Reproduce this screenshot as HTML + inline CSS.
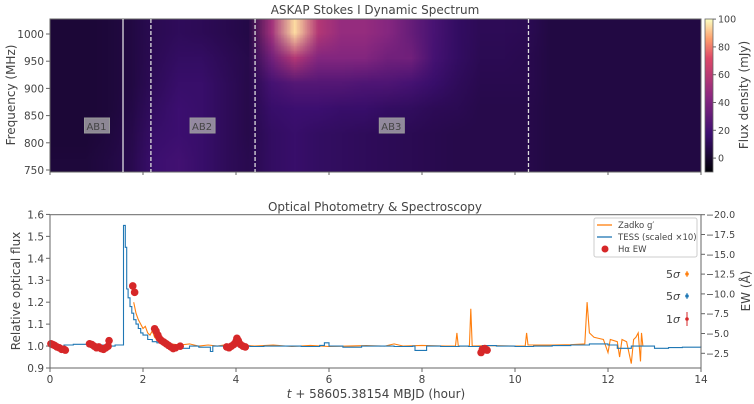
<!DOCTYPE html>
<html><head><meta charset="utf-8"><style>
body{margin:0;width:754px;height:404px;background:#fff;position:relative;overflow:hidden;font-family:"Liberation Sans","DejaVu Sans",sans-serif}
#hm{position:absolute;left:50px;top:19px;width:651px;height:153px}
#cb{position:absolute;left:705px;top:19px;width:8px;height:153px}
svg{position:absolute;left:0;top:0}
text{font-family:"DejaVu Sans","Liberation Sans",sans-serif;fill:#444}
</style></head><body>
<canvas id="hm" width="28" height="6"></canvas>
<canvas id="cb" width="1" height="110"></canvas>
<svg id="s" width="754" height="404"></svg>
<script>
// ---- heatmap data (mJy), columns 0.5 h each, rows top(high freq)->bottom
const hmCols = [
[3,3,3,3,3,4],[3,3,3,3,3,4],[4,4,4,4,5,6],[6,6,6,7,8,9],
[10,11,12,14,16,18],[12,14,16,18,18,20],[11,14,16,16,16,16],[9,11,12,12,12,12],
[7,8,8,8,8,9],[52,36,21,16,14,14],[95,58,26,18,16,16],[58,42,26,18,14,14],
[48,42,26,16,13,13],[48,42,24,16,12,12],[43,36,24,14,11,11],[32,36,21,13,10,10],
[22,21,16,11,9,9],[14,14,12,10,8,8],[11,10,9,8,8,8],[11,10,9,8,8,8],
[10,9,9,8,8,8],[6,6,6,6,6,6],[6,6,6,6,6,6],[6,6,6,6,6,6],
[6,6,6,6,6,6],[6,6,6,6,6,6],[6,6,6,6,6,6],[6,6,6,6,6,6]];
const freqTicks=[750,800,850,900,950,1000];
const cbTicks=[0,20,40,60,80,100];
const dashedT=[2.17,4.41,10.29];
const burstLabels=["AB1","AB2","AB3"];
const burstLabelT=[1.0,3.27,7.34];
// ---- light curve data
const tessT=[0,0.3,0.5,0.8,1.0,1.2,1.4,1.58,1.62,1.65,1.68,1.72,1.76,1.8,1.85,1.9,1.95,2.0,2.1,2.2,2.3,2.4,2.5,2.6,2.8,3.0,3.2,3.45,3.5,3.7,4.0,4.3,4.6,5.0,5.4,5.8,5.9,6.0,6.3,6.7,7.0,7.4,7.8,7.85,8.1,8.4,8.8,9.0,9.3,9.6,10.0,10.4,10.8,11.2,11.6,12.0,12.2,12.5,12.8,13.0,13.3,13.6,14];
const tessF=[1.0,1.005,1.008,1.0,1.005,1.0,1.005,1.55,1.45,1.26,1.22,1.18,1.15,1.12,1.10,1.08,1.06,1.05,1.03,1.02,1.015,1.01,1.005,1.0,0.99,1.0,0.995,0.975,1.0,1.0,1.0,0.998,1.0,1.0,0.998,1.003,1.015,1.0,0.995,1.0,1.0,0.998,1.0,0.98,1.0,0.998,1.0,0.998,1.002,1.0,0.998,1.0,1.002,1.005,1.01,1.005,0.99,1.0,1.0,0.99,0.993,0.995,1.0];
const zadkoT=[1.8,1.85,1.9,1.95,2.0,2.05,2.1,2.15,2.2,2.25,2.3,2.4,2.5,2.6,2.8,3.0,3.2,3.4,3.6,3.9,4.0,4.1,4.4,4.8,5.2,5.6,6.0,6.4,6.8,7.2,7.4,7.6,8.0,8.5,8.72,8.75,8.78,9.02,9.05,9.08,9.5,10.0,10.22,10.25,10.28,10.8,11.2,11.5,11.55,11.6,11.7,11.8,11.9,12.0,12.05,12.2,12.25,12.3,12.4,12.5,12.55,12.6,12.65,12.7,12.72,12.75];
const zadkoF=[1.2,1.15,1.12,1.1,1.08,1.09,1.06,1.05,1.07,1.04,1.03,1.02,1.015,1.01,1.005,1.01,1.0,1.005,1.0,1.01,1.02,1.005,1.0,1.005,0.998,1.003,0.998,1.0,1.002,1.0,1.01,1.0,1.003,1.0,1.0,1.06,1.0,1.0,1.17,1.0,1.002,1.0,1.0,1.06,1.005,1.005,1.006,1.01,1.2,1.06,1.04,1.035,1.03,0.97,1.03,1.02,0.95,1.03,1.02,0.92,1.03,1.04,1.06,0.93,1.06,1.0];
const haT=[0.02,0.06,0.1,0.15,0.2,0.25,0.3,0.33,0.85,0.9,0.95,1.0,1.05,1.1,1.15,1.2,1.25,1.27,1.78,1.82,2.25,2.28,2.32,2.35,2.4,2.45,2.5,2.55,2.6,2.65,2.7,2.8,3.8,3.85,3.9,3.95,4.0,4.02,4.05,4.1,4.15,4.2,9.27,9.3,9.35,9.4];
const haEW=[-3.7,-3.6,-3.5,-3.3,-3.2,-3.0,-3.0,-2.9,-3.7,-3.6,-3.4,-3.2,-3.3,-3.1,-3.0,-3.2,-3.4,-4.1,-11.0,-10.2,-5.6,-5.3,-4.8,-4.4,-4.1,-3.9,-3.7,-3.5,-3.3,-3.1,-3.2,-3.4,-3.3,-3.2,-3.4,-3.6,-4.0,-4.4,-4.1,-3.6,-3.4,-3.3,-2.6,-3.0,-3.1,-2.9];
const xTicks=[0,2,4,6,8,10,12,14];
const yTicks=[0.9,1.0,1.1,1.2,1.3,1.4,1.5,1.6];
const ewTicks=[-2.5,-5.0,-7.5,-10.0,-12.5,-15.0,-17.5,-20.0];

// ---- scales
const X=t=>50+t*(651/14);
const FY=f=>170-(f-750)*0.544;
const Y=v=>368-(v-0.9)*219.4;
const EY=e=>214.7+(e+20)*7.92;
const CBY=v=>172-(v+10)*1.39;
const magma=[[0,0,4],[59,15,112],[140,41,129],[222,73,104],[254,159,109],[252,253,191]];
const mpos=[0,0.25,0.5,0.75,0.875,1];
function cmap(v){let t=Math.max(0,Math.min(1,(v+10)/110));for(let i=1;i<mpos.length;i++){if(t<=mpos[i]){const f=(t-mpos[i-1])/(mpos[i]-mpos[i-1]);const a=magma[i-1],b=magma[i];return `rgb(${a.map((c,k)=>Math.round(c+(b[k]-c)*f)).join(',')})`;}}return 'rgb(252,253,191)';}
const hc=document.getElementById('hm').getContext('2d');
hmCols.forEach((col,i)=>col.forEach((v,j)=>{hc.fillStyle=cmap(v);hc.fillRect(i,j,1,1);}));
const cc=document.getElementById('cb').getContext('2d');
for(let k=0;k<110;k++){cc.fillStyle=cmap(100-k);cc.fillRect(0,k,1,1);}

const S=document.getElementById('s');const NS='http://www.w3.org/2000/svg';
function el(tag,attrs,txt){const e=document.createElementNS(NS,tag);for(const k in attrs)e.setAttribute(k,attrs[k]);if(txt!==undefined)e.textContent=txt;S.appendChild(e);return e;}
let e;
e=el('rect',{x:50,y:19,width:651,height:153,fill:'none',stroke:'#666','stroke-width':1});


e=el('rect',{x:705,y:19,width:8,height:153,fill:'none',stroke:'#666','stroke-width':0.8});


e=el('text',{x:375,y:14,'text-anchor':'middle','font-size':12},'ASKAP Stokes I Dynamic Spectrum');


e=el('line',{x1:X(1.57),x2:X(1.57),y1:19,y2:172,stroke:'#eee','stroke-width':1.2});


dashedT.forEach(t=>{const d=el('line',{x1:X(t),x2:X(t),y1:19,y2:172,stroke:'#ddd','stroke-width':1.3,'stroke-dasharray':'4,2'});

});
burstLabels.forEach((l,i)=>{const cx=X(burstLabelT[i]);
const r=el('rect',{x:cx-12,y:118,width:25,height:15,fill:'#b3b3b3','fill-opacity':0.75,stroke:'#999'});


const t=el('text',{x:cx,y:130,'text-anchor':'middle','font-size':10,fill:'#444'},l);

});
freqTicks.forEach(f=>{const y=FY(f);el('line',{x1:46,x2:50,y1:y,y2:y,stroke:'#666'});
const t=el('text',{x:44,y:y+4,'text-anchor':'end','font-size':10.5},f);

});
xTicks.forEach(v=>{el('line',{x1:X(v),x2:X(v),y1:172,y2:175,stroke:'#666'});});
e=el('text',{x:0,y:0,'text-anchor':'middle','font-size':12,transform:`translate(15,95) rotate(-90)`},'Frequency (MHz)');


cbTicks.forEach(v=>{const y=CBY(v);el('line',{x1:713,x2:716,y1:y,y2:y,stroke:'#666'});
const t=el('text',{x:718,y:y+3.5,'font-size':9.5},v);

});
e=el('text',{x:0,y:0,'text-anchor':'middle','font-size':12,transform:`translate(748,95) rotate(-90)`},'Flux density (mJy)');



// bottom panel
e=el('text',{x:375,y:211,'text-anchor':'middle','font-size':12},'Optical Photometry & Spectroscopy');


yTicks.forEach(v=>{const y=Y(v);el('line',{x1:46,x2:50,y1:y,y2:y,stroke:'#666'});
const t=el('text',{x:44,y:y+4,'text-anchor':'end','font-size':10.5},v.toFixed(1));

});
ewTicks.forEach(v=>{const y=EY(v);el('line',{x1:701,x2:705,y1:y,y2:y,stroke:'#666'});
const t=el('text',{x:706,y:y+3.5,'font-size':9.5},'\u2212'+Math.abs(v).toFixed(1));

});
xTicks.forEach(v=>{el('line',{x1:X(v),x2:X(v),y1:368,y2:372,stroke:'#666'});
const t=el('text',{x:X(v),y:383,'text-anchor':'middle','font-size':10.5},v);

});
e=el('text',{x:0,y:0,'text-anchor':'middle','font-size':12,transform:`translate(20,291) rotate(-90)`},'Relative optical flux');


e=el('text',{x:0,y:0,'text-anchor':'middle','font-size':12,transform:`translate(750,291) rotate(-90)`},'EW (Å)');


e=el('text',{x:376,y:398,'text-anchor':'middle','font-size':12},'');
e.innerHTML='<tspan font-style="italic">t</tspan> + 58605.38154 MBJD (hour)';


let d='';zadkoT.forEach((t,i)=>{d+=(i?'L':'M')+X(t).toFixed(1)+','+Y(zadkoF[i]).toFixed(1);});
e=el('path',{d,fill:'none',stroke:'#ff7f0e','stroke-width':1.1});


d='';tessT.forEach((t,i)=>{if(i===0)d+='M'+X(t)+','+Y(tessF[i]).toFixed(1);else d+='H'+X(t).toFixed(1)+'V'+Y(tessF[i]).toFixed(1);});
e=el('path',{d,fill:'none',stroke:'#1f77b4','stroke-width':1.1});


haT.forEach((t,i)=>{const c=el('circle',{cx:X(t),cy:EY(haEW[i]),r:3.8,fill:'#d62728'});

});
e=el('rect',{x:50,y:214.7,width:651,height:153.3,fill:'none',stroke:'#666'});


[['5σ','#ff7f0e',274,3],['5σ','#1f77b4',296,3],['1σ','#d62728',319,7]].forEach(a=>{
el('line',{x1:687,x2:687,y1:a[2]-a[3],y2:a[2]+a[3],stroke:a[1],'stroke-width':1});
el('circle',{cx:687,cy:a[2],r:1.8,fill:a[1]});
const t=el('text',{x:680,y:a[2]+4,'text-anchor':'end','font-size':11},'');
t.innerHTML=a[0].replace('σ','<tspan font-style="italic">σ</tspan>');

});
e=el('rect',{x:594,y:218,width:103,height:39,fill:'#fff',stroke:'#ccc',rx:2});


el('line',{x1:597,x2:612,y1:225,y2:225,stroke:'#ff7f0e','stroke-width':1.3});
el('line',{x1:597,x2:612,y1:237,y2:237,stroke:'#1f77b4','stroke-width':1.3});
el('circle',{cx:605,cy:249,r:3.5,fill:'#d62728'});
[['Zadko g\u2032',228],['TESS (scaled \u00d710)',240],['H\u03b1 EW',252]].forEach(a=>{const t=el('text',{x:618,y:a[1],'font-size':8.5},a[0]);

});
</script>
</body></html>
